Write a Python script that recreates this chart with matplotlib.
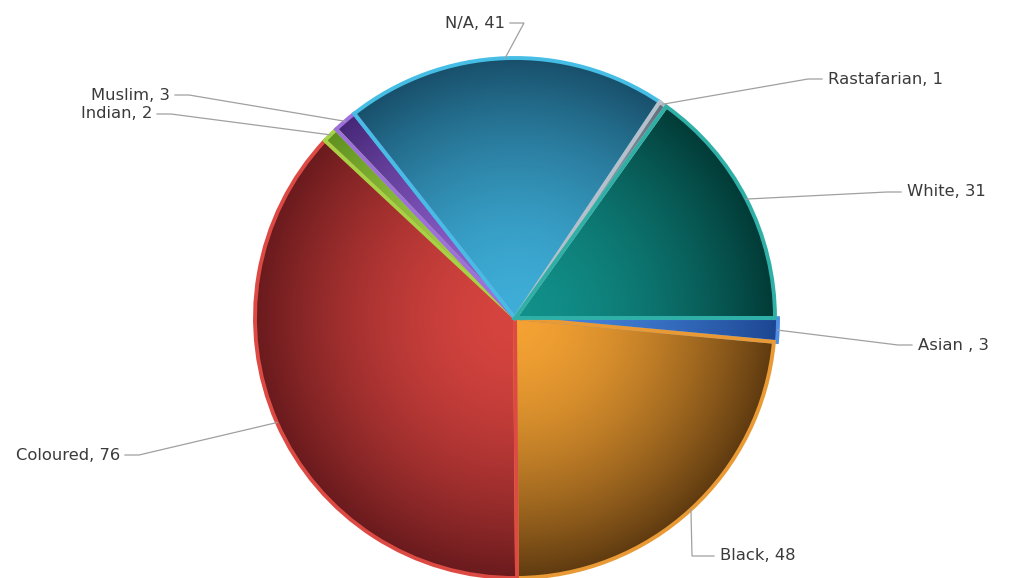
import numpy as np
import matplotlib
matplotlib.use("Agg")
import matplotlib.pyplot as plt
from matplotlib.colors import to_rgb

# Survey data (clockwise from 3 o'clock)
categories = ["Asian ", "Black", "Coloured", "Indian", "Muslim", "N/A", "Rastafarian", "White"]
counts = [3, 48, 76, 2, 3, 41, 1, 31]

# Per-slice shading: bright inner tone, dark outer tone, rim highlight
light_colors = ["#4585dc", "#f4a233", "#d6443f", "#acdc4e", "#9464d4", "#3eaed8", "#aab2be", "#12908a"]
dark_colors = ["#1c4590", "#5e3a10", "#691a1d", "#5f9020", "#452776", "#184f6a", "#646e7a", "#023a36"]
rim_colors = ["#4d8ee6", "#e99a34", "#dd4a44", "#a4d446", "#9d70dc", "#45bde4", "#b7bfca", "#2fb0a6"]
explode = [3, 0, 0, 0, 0, 0, 0, 0]

W, H = 1013, 578
cx, cy, R = 515, 260, 260

fig = plt.figure(figsize=(W / 100, H / 100), dpi=100)
ax = fig.add_axes([0, 0, 1, 1])
ax.set_xlim(0, W)
ax.set_ylim(0, H)
ax.set_aspect("equal")
ax.axis("off")

wedges, _ = ax.pie(counts, center=(cx, cy), radius=R, startangle=0,
                   counterclock=False, explode=explode, frame=True,
                   wedgeprops=dict(linewidth=2.8, zorder=3))

yy, xx = np.mgrid[0:H, 0:W] + 0.5
for w, lc, dc, rc in zip(wedges, light_colors, dark_colors, rim_colors):
    wx, wy = w.center
    t = np.clip(np.hypot(xx - wx, yy - wy) / R, 0, 1) ** 1.7
    a = np.array(to_rgb(lc))
    b = np.array(to_rgb(dc))
    img = a[None, None, :] * (1 - t[..., None]) + b[None, None, :] * t[..., None]
    im = ax.imshow(img, extent=(0, W, 0, H), origin="lower", zorder=2,
                   interpolation="bilinear")
    im.set_clip_path(w)
    w.set_facecolor("none")
    w.set_edgecolor(rc)

ax.set_xlim(0, W)
ax.set_ylim(0, H)

# Label placement: (x, y, horizontal alignment)
label_pos = {
    "Asian ": (918, 233, "left"),
    "Black": (720, 22, "left"),
    "Coloured": (120, 123, "right"),
    "Indian": (152, 464, "right"),
    "Muslim": (170, 483, "right"),
    "N/A": (505, 555, "right"),
    "Rastafarian": (828, 499, "left"),
    "White": (907, 386, "left"),
}

for w, cat, n in zip(wedges, categories, counts):
    mid = np.deg2rad((w.theta1 + w.theta2) / 2)
    wx, wy = w.center
    px, py = wx + R * np.cos(mid), wy + R * np.sin(mid)
    tx, ty, ha = label_pos[cat]
    ax.text(tx, ty, f"{cat}, {n}", ha=ha, va="center", fontsize=11.8,
            color="#3a3a3a", family="DejaVu Sans", zorder=5)
    sx = tx + 5 if ha == "right" else tx - 6
    hx = sx + 14 if ha == "right" else sx - 14
    if cat == "Black":
        hx = sx - 22
    ax.plot([sx, hx, px], [ty, ty, py], color="#a0a0a0", lw=0.9, zorder=4,
            solid_joinstyle="miter")

fig.savefig("out.png", dpi=100, facecolor="white")
